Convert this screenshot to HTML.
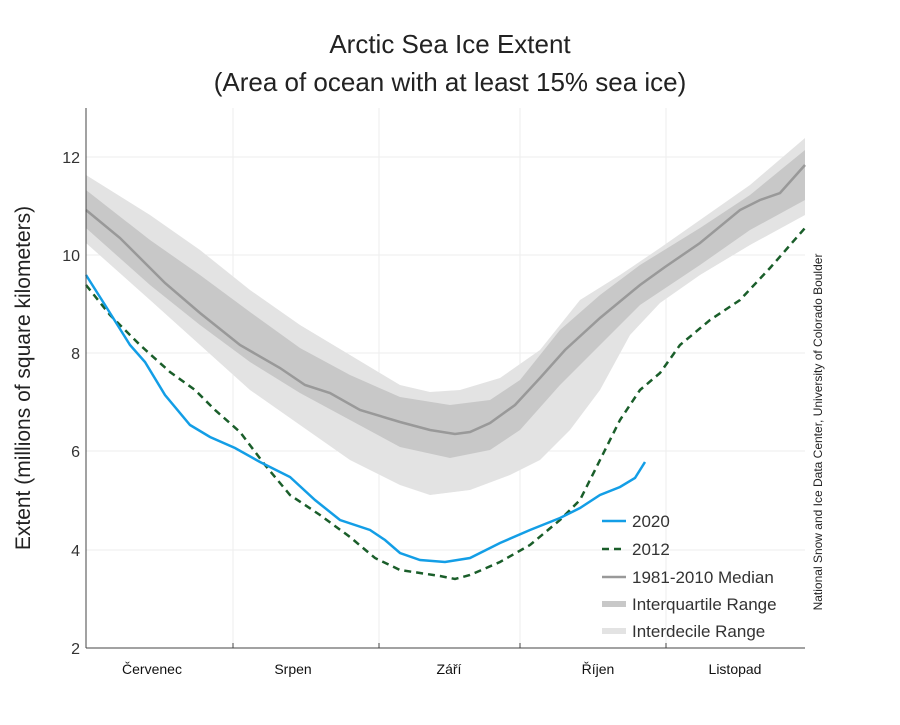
<!DOCTYPE html>
<html><head><meta charset="utf-8"><style>
body{margin:0;background:#fff}
svg text{font-family:"Liberation Sans",sans-serif}
</style></head><body>
<svg width="900" height="720" viewBox="0 0 900 720" xmlns="http://www.w3.org/2000/svg">
<rect width="900" height="720" fill="#fff"/>
<text x="450" y="53" font-size="26" text-anchor="middle" fill="#222">Arctic Sea Ice Extent</text>
<text x="450" y="91" font-size="26" text-anchor="middle" fill="#222">(Area of ocean with at least 15% sea ice)</text>
<g stroke="#eee" stroke-width="1">
<line x1="86" x2="805" y1="157" y2="157"/><line x1="86" x2="805" y1="255" y2="255"/>
<line x1="86" x2="805" y1="353" y2="353"/><line x1="86" x2="805" y1="451" y2="451"/>
<line x1="86" x2="805" y1="550" y2="550"/>
<line x1="233" x2="233" y1="108" y2="648"/><line x1="379" x2="379" y1="108" y2="648"/>
<line x1="520" x2="520" y1="108" y2="648"/><line x1="666" x2="666" y1="108" y2="648"/>
</g>
<polygon fill="#e3e3e3" points="86,175 150,215 200,250 250,290 300,325 350,355 400,385 430,392 460,390 500,378 540,350 580,300 620,275 660,248 700,220 750,185 805,138 805,215 750,245 700,275 660,303 630,335 600,390 570,430 540,460 510,475 470,490 430,495 400,485 350,460 300,425 250,390 200,345 150,300 86,243"/>
<polygon fill="#c8c8c8" points="86,190 150,240 200,275 250,312 300,348 350,375 400,397 450,405 490,400 520,380 560,330 600,295 640,265 700,228 750,195 805,150 805,200 750,230 700,265 640,305 600,345 560,385 520,430 490,450 450,458 400,447 350,420 300,393 250,362 200,325 150,285 86,228"/>
<polyline fill="none" stroke="#999" stroke-width="2.5" points="86,210 120,238 165,283 200,313 240,345 280,368 305,385 330,393 360,410 400,422 430,430 455,434 470,432 490,423 515,405 540,378 565,350 600,318 640,285 665,267 700,243 740,210 760,200 780,193 805,165"/>
<polyline fill="none" stroke="#1a5e2a" stroke-width="2.5" stroke-dasharray="7,5" points="86,285 110,315 140,345 170,372 195,390 215,410 240,432 265,465 290,495 320,515 350,537 375,558 400,570 420,573 440,576 455,579 470,575 500,562 530,545 560,520 580,500 600,460 620,420 640,390 660,373 680,345 710,320 740,300 770,268 805,228"/>
<polyline fill="none" stroke="#139ee6" stroke-width="2.5" points="86,275 105,305 130,345 145,362 165,395 190,425 210,437 235,448 260,462 290,477 315,500 340,520 370,530 385,540 400,553 420,560 445,562 470,558 500,543 530,530 560,518 580,508 600,495 620,487 635,478 645,462"/>
<line x1="86" y1="108" x2="86" y2="648" stroke="#444" stroke-width="1"/>
<line x1="86" y1="648" x2="805" y2="648" stroke="#444" stroke-width="1"/>
<g stroke="#444"><line x1="233" x2="233" y1="643" y2="648"/><line x1="379" x2="379" y1="643" y2="648"/><line x1="520" x2="520" y1="643" y2="648"/><line x1="666" x2="666" y1="643" y2="648"/></g>
<g font-size="16" fill="#333" text-anchor="end">
<text x="80" y="163">12</text><text x="80" y="261">10</text><text x="80" y="359">8</text>
<text x="80" y="457">6</text><text x="80" y="556">4</text><text x="80" y="654">2</text>
</g>
<g font-size="14" fill="#111" text-anchor="middle">
<text x="152" y="674">Červenec</text><text x="293" y="674">Srpen</text><text x="449" y="674">Září</text>
<text x="598" y="674">Říjen</text><text x="735" y="674">Listopad</text>
</g>
<text transform="translate(30,378) rotate(-90)" font-size="21" text-anchor="middle" fill="#222">Extent (millions of square kilometers)</text>
<text transform="translate(822,432) rotate(-90)" font-size="12" text-anchor="middle" fill="#222">National Snow and Ice Data Center, University of Colorado Boulder</text>
<g font-size="17" fill="#333">
<line x1="602" x2="626" y1="521" y2="521" stroke="#139ee6" stroke-width="2.5"/><text x="632" y="527">2020</text>
<line x1="602" x2="626" y1="549" y2="549" stroke="#1a5e2a" stroke-width="2.5" stroke-dasharray="7,5"/><text x="632" y="555">2012</text>
<line x1="602" x2="626" y1="577" y2="577" stroke="#999" stroke-width="2.5"/><text x="632" y="583">1981-2010 Median</text>
<line x1="602" x2="626" y1="604" y2="604" stroke="#c8c8c8" stroke-width="6"/><text x="632" y="610">Interquartile Range</text>
<line x1="602" x2="626" y1="631" y2="631" stroke="#e3e3e3" stroke-width="6"/><text x="632" y="637">Interdecile Range</text>
</g>
</svg>
</body></html>
